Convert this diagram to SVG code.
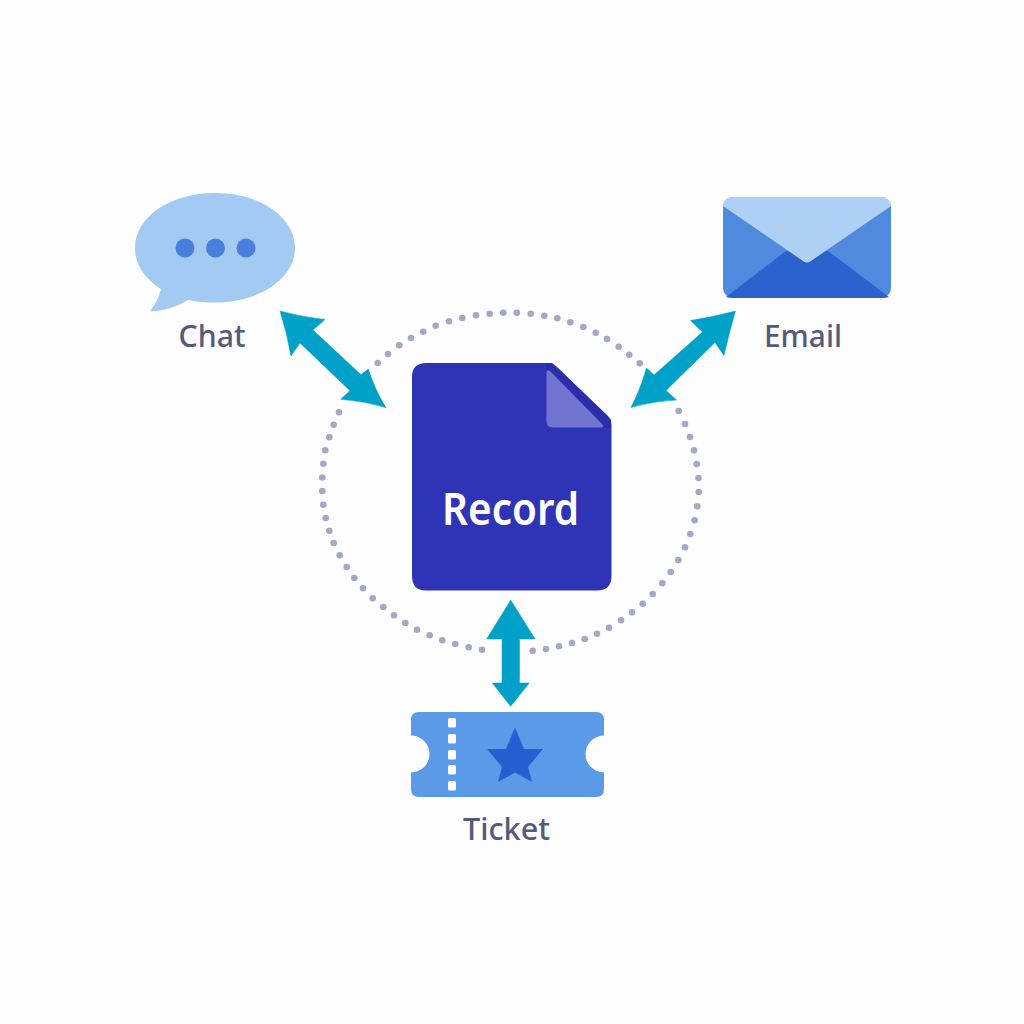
<svg xmlns="http://www.w3.org/2000/svg" width="1024" height="1024" viewBox="0 0 1024 1024">
<defs>
<circle id="d" r="3.300"/>
</defs>
<style>
.lbl{font-family:"Noto Sans","Open Sans",sans-serif;font-weight:500;font-size:31px;fill:#555a7d;text-anchor:middle}
.arrow{fill:#00a1c9;stroke:#00a1c9;stroke-width:0.5;stroke-linejoin:round}
</style>
<rect width="1024" height="1024" fill="#fefefe"/>
<g id="ring" fill="#a3a8c6">
<use href="#d" x="377.700" y="363"/><use href="#d" x="388" y="354"/><use href="#d" x="399.300" y="345.300"/><use href="#d" x="411" y="338"/><use href="#d" x="423.300" y="331.700"/><use href="#d" x="435.700" y="325.700"/><use href="#d" x="449" y="321.300"/><use href="#d" x="462.300" y="318"/><use href="#d" x="476" y="315.300"/><use href="#d" x="489.700" y="313.700"/><use href="#d" x="503.300" y="312.800"/><use href="#d" x="516.800" y="312.700"/><use href="#d" x="530.700" y="313.700"/><use href="#d" x="544.300" y="315.700"/><use href="#d" x="557.300" y="318.300"/><use href="#d" x="570.300" y="322.300"/><use href="#d" x="583.300" y="327"/><use href="#d" x="595.700" y="332.700"/><use href="#d" x="607" y="339"/><use href="#d" x="618.700" y="346.700"/><use href="#d" x="629.300" y="354.700"/><use href="#d" x="639.700" y="363.300"/>
<use href="#d" x="678.700" y="411"/><use href="#d" x="685" y="424"/><use href="#d" x="690" y="437"/><use href="#d" x="694" y="450.300"/><use href="#d" x="696.700" y="464"/><use href="#d" x="698.500" y="478"/><use href="#d" x="698.700" y="492"/><use href="#d" x="697.300" y="506.300"/><use href="#d" x="694.700" y="520.300"/><use href="#d" x="690.300" y="534"/><use href="#d" x="685" y="547.300"/><use href="#d" x="678.300" y="560"/><use href="#d" x="670.700" y="572"/><use href="#d" x="662.300" y="583.300"/><use href="#d" x="652.700" y="594"/><use href="#d" x="642.700" y="603.700"/><use href="#d" x="632" y="612.300"/><use href="#d" x="621" y="620.300"/><use href="#d" x="609" y="627.700"/><use href="#d" x="597" y="633.700"/><use href="#d" x="584.700" y="639"/><use href="#d" x="572" y="643"/><use href="#d" x="559" y="646.300"/><use href="#d" x="546" y="649"/><use href="#d" x="532.700" y="650.700"/>
<use href="#d" x="482" y="649.700"/><use href="#d" x="468.700" y="647.300"/><use href="#d" x="455.300" y="644"/><use href="#d" x="442.300" y="640.300"/><use href="#d" x="429.700" y="635.300"/><use href="#d" x="417" y="629.700"/><use href="#d" x="405.300" y="623"/><use href="#d" x="394" y="615.300"/><use href="#d" x="383.300" y="607"/><use href="#d" x="372.700" y="598.300"/><use href="#d" x="363" y="588.300"/><use href="#d" x="354.300" y="578"/><use href="#d" x="346.700" y="567"/><use href="#d" x="339.700" y="555.300"/><use href="#d" x="333.700" y="543"/><use href="#d" x="329.300" y="530.700"/><use href="#d" x="325.700" y="518"/><use href="#d" x="323.300" y="504.700"/><use href="#d" x="322.300" y="491"/><use href="#d" x="322.300" y="477.500"/><use href="#d" x="323.300" y="463.700"/><use href="#d" x="325.300" y="450.300"/><use href="#d" x="329.300" y="437.300"/><use href="#d" x="333.700" y="424.700"/><use href="#d" x="339" y="412.300"/>
</g>
<g id="connectors">
<path class="arrow" d="M280 311Q302 317 325 319.500L313 330L361 374.700L368.300 369Q375 390 386 407.700Q364 401 340.700 399.300L350 390.700L300 343L291 356Q287 333 280 311Z"/>
<path class="arrow" d="M735.500 311Q713 317 690.500 320.500L702.500 332L654 375L646.500 368Q640 390 631 407.500Q653 401 676.500 400L666 390.500L715 342.500L724 355.500Q729 333 735.500 311Z"/>
<path class="arrow" d="M510.700 600L535 639L519.500 639L519.500 683L529.300 683L510.700 706.300L492.300 683L502 683L502 639L486.700 639Z"/>
</g>
<g id="record">
<path d="M426 363H548Q553 363 557 367L607 415Q611.500 419 611.500 425V576Q611.500 590.500 597 590.500H426Q412 590.500 412 576V377Q412 363 426 363Z" fill="#2f33b5"/>
<path d="M552 363L611 420V428H603L546 370V363Z" fill="#2a2ea9"/>
<path d="M546.500 373Q546.500 368 551 372L601 423Q606 427.500 600 427.500H553Q546.500 427.500 546.500 421Z" fill="#7374d1"/>
<text x="510.500" y="525" font-family="'Noto Sans','Open Sans',sans-serif" font-weight="600" font-size="45" fill="#fff" text-anchor="middle" textLength="137" lengthAdjust="spacingAndGlyphs">Record</text>
</g>
<g id="chat">
<path d="M215 193C170 193 135 217 135 248C135 265 145 279 161 289C159 297 155 305 150 311.500C165 311 178 306 188 300C197 302 206 302.500 215 302.500C260 302.500 295 278 295 248C295 217 260 193 215 193Z" fill="#a3caf2"/>
<circle cx="185" cy="248" r="9.500" fill="#4a80dd"/>
<circle cx="215.500" cy="248" r="9.500" fill="#4a80dd"/>
<circle cx="246" cy="248" r="9.500" fill="#4a80dd"/>
<text class="lbl" x="212" y="347" textLength="67" lengthAdjust="spacingAndGlyphs">Chat</text>
</g>
<g id="email">
<rect x="723" y="197" width="168" height="101" rx="10" fill="#4f8ade"/>
<path d="M726 297L786 251H828L889 297Q886 298 881 298H733Q729 298 726 297Z" fill="#2b62cd"/>
<path d="M723 206Q724 197 733 197H881Q890 197 891 206L811 261Q807 264 803 261Z" fill="#aed0f5"/>
<text class="lbl" x="803" y="347" textLength="78" lengthAdjust="spacingAndGlyphs">Email</text>
</g>
<g id="ticket">
<path d="M419 712H596Q604 712 604 720V735.500A18.500 18.500 0 0 0 604 772.500V789Q604 797 596 797H419Q411 797 411 789V772.500A18.500 18.500 0 0 0 411 735.500V720Q411 712 419 712Z" fill="#5b9ae6"/>
<g fill="#fff">
<rect x="448" y="718" width="8" height="9.500" rx="1.500"/>
<rect x="448" y="734" width="8" height="9.500" rx="1.500"/>
<rect x="448" y="750" width="8" height="9.500" rx="1.500"/>
<rect x="448" y="765" width="8" height="9.500" rx="1.500"/>
<rect x="448" y="781" width="8" height="9.500" rx="1.500"/>
</g>
<path d="M515 727.500L524 749H543L528 767L532 782L515 772.500L498 782L502 767L487 749H506Z" fill="#2560d2"/>
<text class="lbl" x="506.500" y="840" textLength="87" lengthAdjust="spacingAndGlyphs">Ticket</text>
</g>
</svg>
